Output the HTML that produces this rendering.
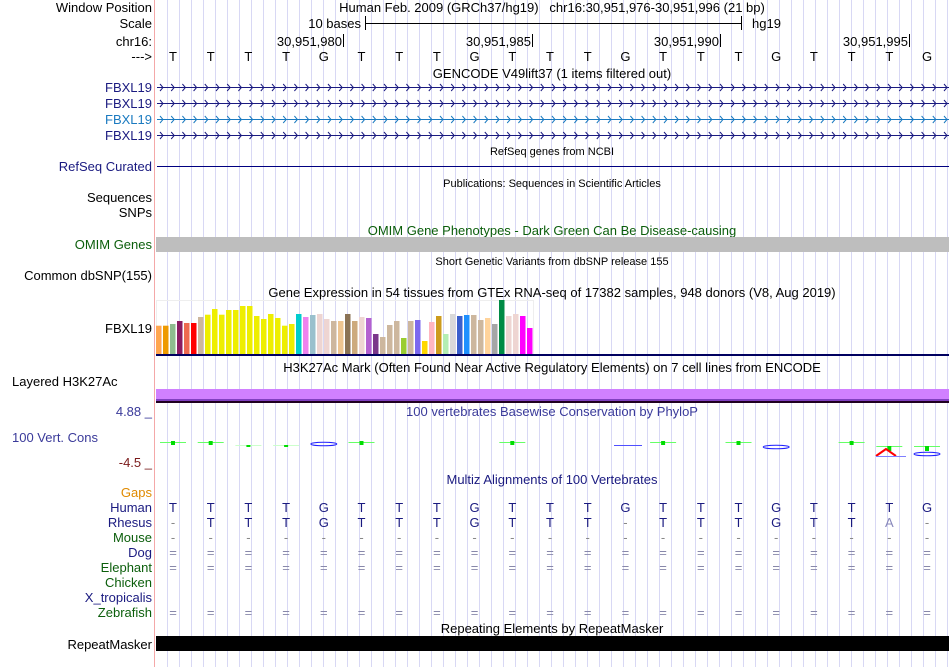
<!DOCTYPE html>
<html><head><meta charset="utf-8"><style>
body{margin:0;background:#fff;}
svg{display:block;font-family:"Liberation Sans",sans-serif;}
</style></head><body>
<svg id="s" width="950" height="667" xmlns="http://www.w3.org/2000/svg"></svg>
<script>
const s=document.getElementById('s');let h='';
for(let x=167;x<950;x+=12)h+=`<line x1="${x}.5" y1="0" x2="${x}.5" y2="667" stroke="#d8d8f4"/>`;
h+=`<line x1="154.5" y1="0" x2="154.5" y2="667" stroke="#f4a8a8"/>`;
function L(t,y,c){h+=`<text x="152" y="${y}" font-size="13" text-anchor="end" fill="${c||'#000'}">${t}</text>`;}
function C(t,x,y,c,fs){h+=`<text x="${x}" y="${y}" font-size="${fs||13}" text-anchor="middle" fill="${c||'#000'}">${t}</text>`;}
L('Window Position',12);L('Scale',28);L('chr16:',46);L('--->',61);
C('Human Feb. 2009 (GRCh37/hg19)&#160;&#160;&#160;chr16:30,951,976-30,951,996 (21 bp)',552,12);
h+=`<text x="361" y="28" font-size="13" text-anchor="end">10 bases</text><line x1="365.5" y1="16" x2="365.5" y2="30" stroke="#000"/><line x1="741.5" y1="16" x2="741.5" y2="30" stroke="#000"/><line x1="365" y1="23.5" x2="741" y2="23.5" stroke="#000"/><text x="752" y="28" font-size="13">hg19</text>`;
[[343,'30,951,980'],[532,'30,951,985'],[720,'30,951,990'],[909,'30,951,995']].forEach(([x,t])=>{h+=`<text x="${x-1}" y="46" font-size="13" text-anchor="end">${t}</text><line x1="${x}.5" y1="34" x2="${x}.5" y2="47" stroke="#000"/>`;});
const seq='TTTTGTTTGTTTGTTTGTTTG';
const bx=i=>173+i*37.7;
for(let i=0;i<21;i++)C(seq[i],bx(i),61);
C('GENCODE V49lift37 (1 items filtered out)',552,78);
[[87,'#1a1a80'],[103,'#1a1a80'],[119,'#1a7ac0'],[135,'#1a1a80']].forEach(([y,c])=>{L('FBXL19',y+5,c);h+=`<line x1="157" y1="${y}.5" x2="949" y2="${y}.5" stroke="${c}"/>`;let p='';for(let x=160;x<949;x+=11.2)p+=`M${x.toFixed(1)},${y-3}l3,3.5l-3,3.5`;h+=`<path d="${p}" stroke="${c}" fill="none"/>`;});
C('RefSeq genes from NCBI',552,155,'#000',11);
L('RefSeq Curated',171,'#1a1a80');h+=`<line x1="157" y1="166.5" x2="949" y2="166.5" stroke="#000080"/>`;
C('Publications: Sequences in Scientific Articles',552,187,'#000',11);
L('Sequences',202);L('SNPs',217);
C('OMIM Gene Phenotypes - Dark Green Can Be Disease-causing',552,235,'#0b5e0b');
L('OMIM Genes',249,'#0b5e0b');h+=`<rect x="156" y="237" width="793" height="15" fill="#bebebe"/>`;
C('Short Genetic Variants from dbSNP release 155',552,265,'#000',11);
L('Common dbSNP(155)',280);
C('Gene Expression in 54 tissues from GTEx RNA-seq of 17382 samples, 948 donors (V8, Aug 2019)',552,297);
L('FBXL19',333);
h+=`<rect x="156.5" y="300.5" width="377" height="54" fill="none" stroke="#eee"/>`;
const tops=[107,107,102,93,99,99,81,74,57,74,60,60,48,48,78,87,72,84,107,102,102,72,81,75,72,87,93,93,72,93,81,84,132,141,105,93,144,93,90,153,96,78,132,72,78,75,75,90,84,102,30,78,72,78,114];
const cols=['#ffa54f','#ee9a00','#8fbc8f','#8b1c62','#ee6a50','#ff0000','#cdb79e','#eeee00','#eeee00','#eeee00','#eeee00','#eeee00','#eeee00','#eeee00','#eeee00','#eeee00','#eeee00','#eeee00','#eeee00','#eeee00','#00cdcd','#ee82ee','#9ac0cd','#eed5d2','#eed5d2','#cdb79e','#eec591','#8b7355','#cdaa7d','#eed5d2','#b460d0','#7a378b','#cdb79e','#cdb79e','#cdb79e','#9acd32','#cdb79e','#7b68ee','#ffd700','#ffb6c1','#cd9b1d','#b4eeb4','#d9d9d9','#3a5fcd','#1e90ff','#cdb79e','#cdb79e','#ffd39b','#a6a6a6','#008b45','#eed5d2','#eed5d2','#ff00ff','#ff00ff'];
const tp=tops.slice(0,20).concat(tops.slice(21));
const n=54;for(let i=0;i<n;i++){const hh=(192-tp[i])/3;h+=`<rect x="${156+i*7}" y="${(354-hh).toFixed(1)}" width="5.5" height="${hh.toFixed(1)}" fill="${cols[i]}"/>`;}
h+=`<rect x="156" y="354" width="793" height="2" fill="#000060"/>`;
C('H3K27Ac Mark (Often Found Near Active Regulatory Elements) on 7 cell lines from ENCODE',552,372);
h+=`<text x="12" y="386" font-size="13">Layered H3K27Ac</text>`;
h+=`<rect x="156" y="389" width="793" height="12" fill="#d080ff"/><rect x="156" y="399" width="793" height="2" fill="#8040c0"/><rect x="156" y="401" width="793" height="2" fill="#200020"/>`;
L('4.88 _',416,'#3a3a9a');h+=`<text x="12" y="442" font-size="13" fill="#3a3a9a">100 Vert. Cons</text>`;L('-4.5 _',467,'#7a1a1a');
C('100 vertebrates Basewise Conservation by PhyloP',552,416,'#3a3a9a');
[0,1,5,9,13,15,18].forEach(i=>{const x=bx(i);h+=`<line x1="${x-13}" y1="442.5" x2="${x+13}" y2="442.5" stroke="#66ff66"/><rect x="${x-2}" y="441" width="4" height="4" fill="#00dd00"/>`;});
[2,3].forEach(i=>{const x=bx(i);h+=`<line x1="${x-13}" y1="445.5" x2="${x+13}" y2="445.5" stroke="#ccffcc"/><rect x="${x-2}" y="445" width="4" height="2" fill="#00dd00"/>`;});
[19,20].forEach(i=>{const x=bx(i);h+=`<line x1="${x-13}" y1="446.5" x2="${x+13}" y2="446.5" stroke="#66ff66"/><rect x="${x-2}" y="446" width="4" height="5" fill="#00dd00"/>`;});
[[4,444],[16,447],[20,454]].forEach(([i,y])=>{const x=bx(i);h+=`<ellipse cx="${x}" cy="${y}" rx="13" ry="1.8" fill="none" stroke="#2020ff" stroke-width="1"/>`;});
h+=`<line x1="614" y1="445.5" x2="642" y2="445.5" stroke="#5050ff"/>`;
h+=`<path d="M876,456L886,449L896,456" stroke="#ff0000" stroke-width="2" fill="none"/><line x1="876" y1="456.5" x2="906" y2="456.5" stroke="#8080ff"/>`;
C('Multiz Alignments of 100 Vertebrates',552,484,'#1a1a80');
L('Gaps',497,'#e08a00');L('Human',512,'#1a1a80');L('Rhesus',527,'#1a1a80');L('Mouse',542,'#0b5e0b');L('Dog',557,'#1a1a80');L('Elephant',572,'#0b5e0b');L('Chicken',587,'#0b5e0b');L('X_tropicalis',602,'#1a1a80');L('Zebrafish',617,'#0b5e0b');
const rh='-TTTGTTTGTTT-TTTGTTA-';
for(let i=0;i<21;i++){const x=bx(i);C(seq[i],x,512,'#1a1a80');
const r=rh[i];C(r,x,527,r=='-'?'#888':(r=='A'?'#8888bb':'#1a1a80'));
C('-',x,542,'#888');C('=',x,557,'#8888aa');C('=',x,572,'#8888aa');C('=',x,617,'#8888aa');}
C('Repeating Elements by RepeatMasker',552,633);
L('RepeatMasker',649);h+=`<rect x="156" y="636" width="793" height="15" fill="#000"/>`;
s.innerHTML=h;
</script>
</body></html>
